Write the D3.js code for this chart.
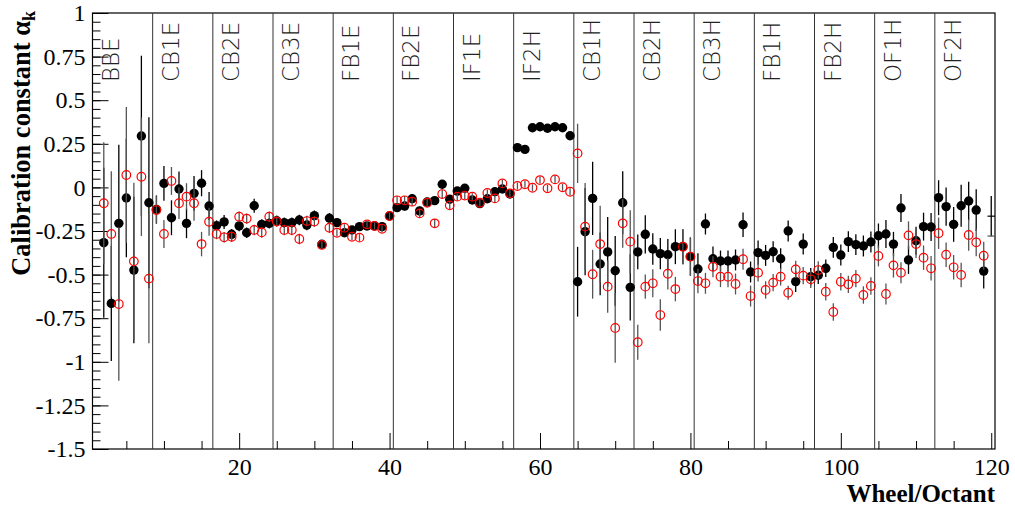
<!DOCTYPE html>
<html><head><meta charset="utf-8">
<script src="https://cdn.jsdelivr.net/npm/d3@7"></script>
<style>body{margin:0;background:#fff}svg{display:block}</style>
</head><body>
<svg id="c" width="1015" height="518"></svg>
<script>
// ---- data (index 0 -> wheel/octant 1) ----
const groups = ["BBE","CB1E","CB2E","CB3E","FB1E","FB2E","IF1E","IF2H","CB1H","CB2H","CB3H","FB1H","FB2H","OF1H","OF2H"];
const binsPerGroup = 8;
const blackVals = [null,-0.317,-0.665,-0.206,-0.061,-0.474,0.295,-0.088,
 -0.126,0.023,-0.174,-0.009,-0.206,-0.034,0.024,-0.107,
 -0.219,-0.198,-0.269,-0.221,-0.260,-0.105,-0.212,-0.206,
 -0.191,-0.202,-0.202,-0.187,-0.216,-0.162,-0.326,-0.177,
 -0.202,-0.260,-0.244,-0.225,-0.221,-0.221,-0.225,-0.164,
 -0.116,-0.107,-0.065,-0.135,-0.084,-0.076,0.018,-0.068,
 -0.021,-0.005,-0.072,-0.093,-0.065,-0.025,-0.009,-0.038,
 0.228,0.218,0.342,0.348,0.339,0.348,0.342,0.296,
 -0.541,-0.254,-0.063,-0.439,-0.370,-0.478,-0.088,-0.573,
 -0.370,-0.269,-0.353,-0.380,-0.386,-0.340,-0.340,-0.397,
 -0.468,-0.210,-0.409,-0.422,-0.422,-0.416,-0.214,-0.485,
 -0.374,-0.390,-0.369,-0.409,-0.250,-0.540,-0.325,-0.512,
 -0.504,-0.464,-0.344,-0.388,-0.311,-0.328,-0.336,-0.313,
 -0.277,-0.267,-0.325,-0.118,-0.416,-0.306,-0.225,-0.227,
 -0.059,-0.110,-0.212,-0.105,-0.078,-0.130,-0.480,-0.165];
const blackErr = [null,0.43,0.33,0.45,0.34,0.42,0.46,0.49,
 0.08,0.10,0.10,0.10,0.085,0.10,0.075,0.08,
 0.03,0.04,0.03,0.03,0.03,0.04,0.03,0.03,
 0.03,0.03,0.03,0.03,0.03,0.03,0.02,0.03,
 0.02,0.02,0.02,0.02,0.02,0.02,0.02,0.02,
 0.025,0.025,0.025,0.025,0.025,0.025,0.025,0.025,
 0.02,0.02,0.02,0.02,0.02,0.02,0.02,0.02,
 0.02,0.02,0.02,0.02,0.02,0.02,0.02,0.02,
 0.20,0.25,0.21,0.18,0.20,0.20,0.18,0.19,
 0.10,0.11,0.09,0.09,0.09,0.10,0.10,0.11,
 0.09,0.06,0.07,0.06,0.06,0.06,0.07,0.06,
 0.07,0.06,0.06,0.06,0.06,0.06,0.06,0.05,
 0.05,0.05,0.06,0.06,0.06,0.06,0.06,0.06,
 0.07,0.08,0.07,0.08,0.08,0.08,0.08,0.08,
 0.10,0.11,0.10,0.12,0.11,0.12,0.10,0.115];
const redVals = [null,-0.091,-0.267,-0.669,0.071,-0.424,0.061,-0.523,
 -0.130,-0.267,0.037,-0.091,-0.053,-0.091,-0.325,-0.197,
 -0.267,-0.286,-0.283,-0.168,-0.179,-0.244,-0.258,-0.168,
 -0.196,-0.244,-0.244,-0.296,-0.193,-0.196,-0.330,-0.231,
 -0.260,-0.231,-0.283,-0.288,-0.212,-0.221,-0.237,-0.164,
 -0.074,-0.074,-0.082,-0.149,-0.088,-0.206,-0.038,-0.103,
 -0.053,-0.047,-0.053,-0.088,-0.032,-0.063,0.023,-0.034,
 0.008,0.018,-0.002,0.042,-0.005,0.046,0.001,-0.025,
 0.195,-0.225,-0.498,-0.325,-0.569,-0.806,-0.206,-0.311,
 -0.888,-0.569,-0.550,-0.732,-0.495,-0.583,-0.340,-0.397,
 -0.537,-0.550,-0.455,-0.512,-0.512,-0.554,-0.412,-0.623,
 -0.489,-0.588,-0.546,-0.512,-0.604,-0.470,-0.506,-0.527,
 -0.474,-0.598,-0.714,-0.541,-0.556,-0.523,-0.617,-0.565,
 -0.393,-0.611,-0.447,-0.489,-0.275,-0.325,-0.403,-0.464,
 -0.263,-0.386,-0.458,-0.502,-0.273,-0.315,-0.392,-0.279];
const redErr = [null,0.35,0.36,0.44,0.39,0.45,0.34,0.37,
 0.08,0.08,0.08,0.09,0.077,0.10,0.07,0.08,
 0.03,0.03,0.03,0.03,0.03,0.03,0.03,0.03,
 0.03,0.03,0.03,0.03,0.03,0.03,0.02,0.03,
 0.02,0.02,0.02,0.02,0.02,0.02,0.02,0.02,
 0.025,0.025,0.025,0.025,0.025,0.025,0.025,0.025,
 0.02,0.02,0.02,0.02,0.02,0.02,0.02,0.02,
 0.02,0.02,0.02,0.02,0.02,0.02,0.02,0.02,
 0.17,0.25,0.14,0.22,0.15,0.20,0.14,0.18,
 0.10,0.07,0.08,0.09,0.09,0.07,0.10,0.11,
 0.07,0.06,0.06,0.06,0.06,0.06,0.06,0.06,
 0.05,0.05,0.05,0.05,0.04,0.05,0.05,0.05,
 0.05,0.05,0.05,0.05,0.05,0.05,0.05,0.05,
 0.06,0.06,0.07,0.06,0.08,0.08,0.07,0.07,
 0.09,0.07,0.07,0.07,0.09,0.08,0.08,0.0];
const noMarkerBins = [120];
const xTickLabels = [20,40,60,80,100,120];
const xMinorTicks = [5,10,15,25,30,35,45,50,55,65,70,75,85,90,95,105,110,115];
const yTickLabels = [1,0.75,0.5,0.25,0,-0.25,-0.5,-0.75,-1,-1.25,-1.5];

// ---- layout ----
const L=92.5, R=995, T=13, B=449;
const svg = d3.select("#c");
const x = d3.scaleLinear().domain([0.5,120.5]).range([L,R]);
const y = d3.scaleLinear().domain([-1.5,1]).range([B,T]);
const serif = "'Liberation Serif','Times New Roman',serif";

// frame
svg.append("rect").attr("x",L).attr("y",T).attr("width",R-L).attr("height",B-T)
  .attr("fill","none").attr("stroke","#000").attr("stroke-width",1.2);

// group separators
const seps = d3.range(1,groups.length).map(i=>0.5+i*binsPerGroup);
svg.append("g").selectAll("line").data(seps).join("line")
  .attr("x1",d=>x(d)).attr("x2",d=>x(d)).attr("y1",T).attr("y2",B)
  .attr("stroke","#333").attr("stroke-width",1);

// group labels
svg.append("g").selectAll("text").data(groups).join("text")
  .attr("transform",(d,i)=>`translate(${x(0.5+i*binsPerGroup)+26},82) rotate(-90)`)
  .attr("text-anchor","start")
  .attr("font-family","'DejaVu Sans',sans-serif").attr("font-weight",200)
  .attr("font-size",23).attr("fill","#222").text(d=>d);

// axes
const gx = svg.append("g").attr("transform",`translate(0,${B})`)
  .call(d3.axisBottom(x).tickValues(xTickLabels).tickSizeInner(-16).tickSizeOuter(0).tickPadding(9).tickFormat(d=>String(d)));
const gxm = svg.append("g").attr("transform",`translate(0,${B})`)
  .call(d3.axisBottom(x).tickValues(xMinorTicks).tickSizeInner(-8).tickSizeOuter(0).tickFormat(""));
const yMinor = d3.range(-1.5,1.0001,0.05).map(v=>+v.toFixed(2));
const gy = svg.append("g").attr("transform",`translate(${L},0)`)
  .call(d3.axisLeft(y).tickValues(yTickLabels).tickSizeInner(-16).tickSizeOuter(0).tickPadding(7).tickFormat(d=>String(d)));
const gym = svg.append("g").attr("transform",`translate(${L},0)`)
  .call(d3.axisLeft(y).tickValues(yMinor).tickSizeInner(-8).tickSizeOuter(0).tickFormat(""));
[gx,gxm,gy,gym].forEach(g=>{
  g.attr("font-family",serif).attr("font-size",24);
  g.select(".domain").remove();
  g.selectAll("line").attr("stroke","#000").attr("stroke-width",1);
  g.selectAll("text").attr("fill","#000");
});

// axis titles
svg.append("text").attr("x",R).attr("y",502).attr("text-anchor","end")
  .attr("font-family",serif).attr("font-weight","bold").attr("font-size",25).text("Wheel/Octant");
const yt = svg.append("text").attr("transform",`translate(30,11) rotate(-90)`).attr("text-anchor","end")
  .attr("font-family",serif).attr("font-weight","bold").attr("font-size",26.5);
yt.append("tspan").text("Calibration constant α");
yt.append("tspan").attr("font-size",18).attr("dy",5).text("k");

// data
const bins = d3.range(1,121);
const mk = (vals,errs)=>bins.map((b,i)=>({b,v:vals[i],e:errs[i]})).filter(d=>d.v!==null);
const blk = mk(blackVals,blackErr), red = mk(redVals,redErr);
const plot = svg.append("g");
function drawErr(data,color){
  plot.append("g").selectAll("line").data(data.filter(d=>d.e>0)).join("line")
    .attr("x1",d=>x(d.b)).attr("x2",d=>x(d.b))
    .attr("y1",d=>y(Math.min(1,d.v+d.e))).attr("y2",d=>y(Math.max(-1.5,d.v-d.e)))
    .attr("stroke",color).attr("stroke-width",1.3);
  plot.append("g").selectAll("line").data(data.filter(d=>noMarkerBins.includes(d.b))).join("line")
    .attr("x1",d=>x(d.b-0.5)).attr("x2",d=>Math.min(R,x(d.b+0.5)))
    .attr("y1",d=>y(d.v)).attr("y2",d=>y(d.v))
    .attr("stroke",color).attr("stroke-width",1.2);
}
drawErr(blk,"#000");
plot.append("g").selectAll("circle").data(blk.filter(d=>!noMarkerBins.includes(d.b))).join("circle")
  .attr("cx",d=>x(d.b)).attr("cy",d=>y(d.v)).attr("r",4.7).attr("fill","#000");
drawErr(red,"#555");
plot.append("g").selectAll("circle").data(red.filter(d=>!noMarkerBins.includes(d.b))).join("circle")
  .attr("cx",d=>x(d.b)).attr("cy",d=>y(d.v)).attr("r",4.3).attr("fill","none")
  .attr("stroke","#f00").attr("stroke-width",1.2);
</script>
</body></html>
